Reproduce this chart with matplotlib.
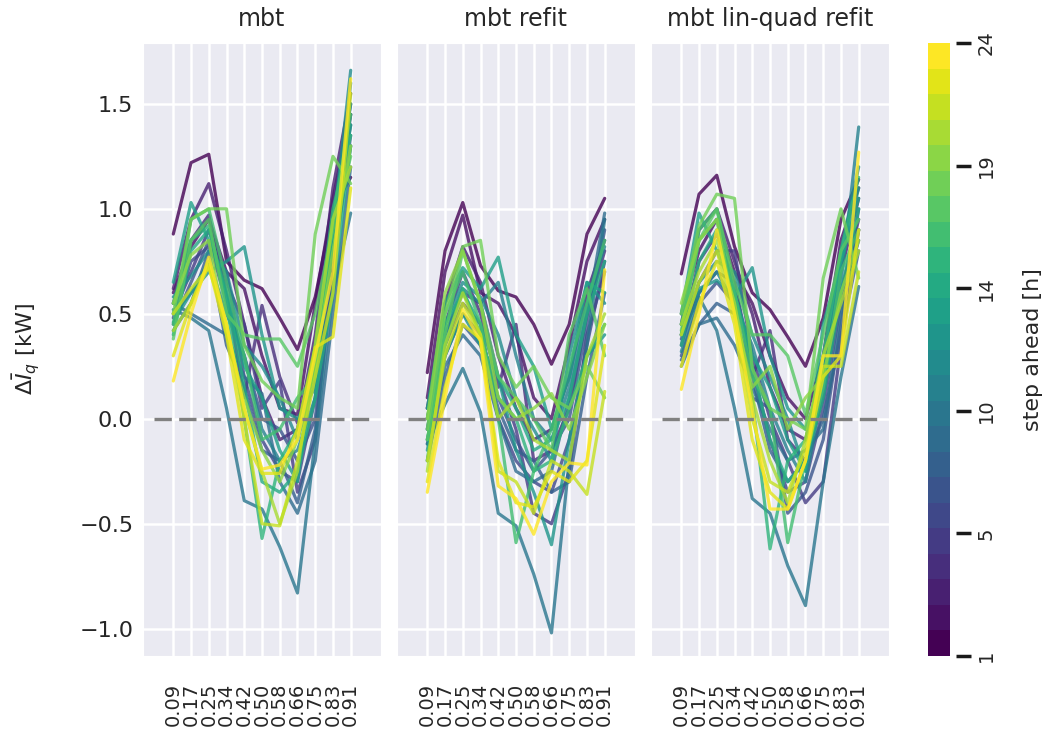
import numpy as np
import matplotlib
matplotlib.use("Agg")
import matplotlib.pyplot as plt
import matplotlib.colors as mcolors
import seaborn as sns

sns.set_style("darkgrid")
plt.rcParams['font.family'] = ['DejaVu Sans']

quantiles = [0.09, 0.172, 0.254, 0.336, 0.418, 0.5, 0.582, 0.664, 0.746, 0.828, 0.91]
steps = list(range(1, 25))
titles = ["mbt", "mbt refit", "mbt lin-quad refit"]

# mean current error per quantile, one row per step ahead (1..24)
mbt = [
    [0.88, 1.22, 1.26, 0.75, 0.66, 0.62, 0.48, 0.33, 0.58, 1.00, 1.15],
    [0.60, 0.82, 0.95, 0.70, 0.62, 0.30, 0.05, 0.02, 0.55, 1.05, 1.45],
    [0.62, 0.95, 1.12, 0.80, 0.45, 0.10, -0.10, -0.05, 0.40, 1.10, 1.55],
    [0.55, 0.85, 0.97, 0.60, 0.10, 0.54, 0.20, -0.02, 0.25, 1.00, 1.50],
    [0.50, 0.70, 0.90, 0.65, 0.45, 0.05, 0.18, -0.35, -0.10, 0.75, 1.30],
    [0.48, 0.75, 0.82, 0.70, 0.20, -0.10, -0.25, -0.30, 0.10, 0.90, 1.40],
    [0.45, 0.65, 0.85, 0.55, 0.30, 0.00, -0.05, -0.20, 0.00, 0.80, 1.45],
    [0.42, 0.55, 0.80, 0.35, 0.15, -0.15, -0.20, -0.40, -0.05, 0.70, 1.35],
    [0.55, 0.50, 0.45, 0.40, 0.20, 0.12, -0.30, -0.45, -0.20, 0.50, 1.20],
    [0.52, 0.48, 0.42, 0.05, -0.39, -0.43, -0.61, -0.83, -0.10, 0.60, 0.98],
    [0.50, 0.60, 0.75, 0.50, 0.30, -0.05, -0.20, -0.15, 0.10, 0.85, 1.60],
    [0.58, 0.68, 0.80, 0.70, 0.35, 0.25, 0.10, -0.10, 0.20, 0.90, 1.66],
    [0.46, 0.60, 0.70, 0.75, 0.82, 0.40, 0.05, 0.00, 0.15, 0.95, 1.50],
    [0.65, 1.03, 0.85, 0.60, 0.25, 0.10, -0.15, -0.30, 0.30, 0.85, 1.40],
    [0.40, 0.80, 0.90, 0.60, 0.15, -0.30, -0.35, -0.25, 0.10, 0.60, 1.30],
    [0.55, 0.85, 0.92, 0.55, 0.00, -0.57, -0.20, -0.05, 0.35, 1.00, 1.35],
    [0.45, 0.95, 1.00, 0.65, 0.30, -0.10, -0.05, 0.10, 0.20, 0.95, 1.45],
    [0.38, 0.85, 0.95, 0.50, 0.40, 0.38, 0.38, 0.25, 0.50, 0.90, 1.25],
    [0.50, 0.95, 1.00, 1.00, 0.35, 0.18, 0.10, 0.05, 0.88, 1.25, 1.12],
    [0.55, 0.78, 0.85, 0.40, 0.10, -0.15, -0.30, -0.10, 0.25, 0.80, 1.30],
    [0.42, 0.55, 0.75, 0.45, 0.05, -0.25, -0.50, -0.25, 0.35, 0.95, 1.20],
    [0.50, 0.62, 0.72, 0.45, 0.00, -0.50, -0.51, -0.20, 0.20, 0.60, 1.55],
    [0.30, 0.55, 0.73, 0.40, -0.10, -0.26, -0.26, -0.05, 0.34, 0.39, 1.10],
    [0.18, 0.50, 0.77, 0.45, 0.05, -0.24, -0.22, -0.10, 0.30, 0.70, 1.62],
]

mbt_refit = [
    [0.22, 0.80, 1.03, 0.73, 0.61, 0.58, 0.45, 0.26, 0.45, 0.88, 1.05],
    [0.10, 0.70, 0.97, 0.60, 0.55, 0.40, 0.10, 0.00, 0.35, 0.75, 0.95],
    [0.05, 0.55, 0.82, 0.65, 0.30, 0.05, -0.10, -0.05, 0.20, 0.60, 0.85],
    [0.00, 0.45, 0.70, 0.50, 0.15, 0.45, -0.20, -0.15, 0.05, 0.50, 0.80],
    [-0.05, 0.40, 0.60, 0.55, 0.20, -0.05, -0.45, -0.50, -0.25, 0.40, 0.70],
    [0.05, 0.35, 0.55, 0.45, 0.00, -0.20, -0.30, -0.35, -0.10, 0.35, 0.75],
    [-0.10, 0.30, 0.50, 0.40, 0.10, -0.10, -0.25, -0.15, 0.00, 0.45, 0.90],
    [-0.20, 0.20, 0.45, 0.35, 0.05, -0.15, -0.20, -0.35, -0.30, 0.20, 0.60],
    [-0.12, 0.25, 0.40, 0.30, 0.00, -0.25, -0.30, -0.25, 0.10, 0.50, 0.98],
    [-0.12, 0.07, 0.24, 0.03, -0.45, -0.51, -0.74, -1.02, -0.20, 0.35, 0.95],
    [0.00, 0.40, 0.62, 0.55, 0.65, 0.30, 0.00, -0.10, 0.15, 0.55, 0.82],
    [-0.05, 0.45, 0.65, 0.58, 0.40, 0.10, -0.05, -0.20, 0.30, 0.65, 0.55],
    [-0.15, 0.30, 0.50, 0.35, 0.20, -0.15, -0.35, -0.60, -0.10, 0.30, 0.40],
    [0.05, 0.55, 0.72, 0.62, 0.77, 0.40, 0.25, -0.05, 0.20, 0.65, 0.60],
    [-0.20, 0.45, 0.60, 0.45, 0.20, 0.05, -0.15, -0.10, 0.10, 0.50, 0.75],
    [-0.10, 0.35, 0.62, 0.40, 0.10, 0.00, -0.25, -0.20, 0.05, 0.30, 0.45],
    [0.00, 0.50, 0.70, 0.45, 0.00, -0.59, -0.25, -0.05, 0.25, 0.55, 0.85],
    [-0.10, 0.40, 0.80, 0.55, 0.20, 0.10, 0.00, -0.15, 0.40, 0.62, 0.30],
    [-0.05, 0.50, 0.82, 0.85, 0.30, 0.15, 0.25, 0.10, 0.05, 0.25, 0.10],
    [0.00, 0.60, 0.80, 0.55, 0.10, 0.00, 0.05, 0.12, -0.05, 0.20, 0.45],
    [-0.25, 0.35, 0.60, 0.40, 0.00, 0.10, -0.10, -0.15, -0.20, 0.30, 0.50],
    [-0.20, 0.30, 0.55, 0.40, -0.25, -0.30, -0.45, -0.20, -0.25, -0.36, 0.13],
    [-0.30, 0.15, 0.45, 0.38, -0.20, -0.40, -0.42, -0.25, -0.30, -0.20, 0.35],
    [-0.35, 0.10, 0.52, 0.37, -0.32, -0.38, -0.55, -0.30, -0.21, -0.22, 0.71],
]

mbt_linquad = [
    [0.69, 1.07, 1.16, 0.82, 0.60, 0.52, 0.39, 0.25, 0.48, 0.95, 1.14],
    [0.50, 0.80, 0.95, 0.70, 0.55, 0.30, 0.10, 0.00, 0.30, 0.85, 1.10],
    [0.45, 0.90, 1.00, 0.75, 0.50, 0.15, -0.05, -0.10, 0.20, 0.70, 1.05],
    [0.40, 0.75, 0.88, 0.65, 0.20, 0.42, -0.10, -0.20, 0.10, 0.60, 0.95],
    [0.35, 0.65, 0.80, 0.80, 0.30, 0.00, -0.20, -0.40, -0.30, 0.35, 0.90],
    [0.38, 0.60, 0.70, 0.65, 0.25, -0.10, -0.35, -0.30, 0.05, 0.55, 0.85],
    [0.30, 0.55, 0.65, 0.55, 0.10, 0.05, -0.45, -0.35, -0.10, 0.45, 1.00],
    [0.28, 0.45, 0.55, 0.50, 0.20, -0.15, -0.30, -0.20, 0.00, 0.40, 0.80],
    [0.25, 0.45, 0.48, 0.35, 0.15, -0.05, -0.20, -0.15, -0.05, 0.50, 0.90],
    [0.40, 0.58, 0.42, 0.05, -0.38, -0.45, -0.70, -0.89, -0.30, 0.20, 0.63],
    [0.32, 0.60, 0.70, 0.55, 0.35, 0.05, -0.15, -0.30, 0.15, 0.65, 1.39],
    [0.40, 0.65, 0.75, 0.70, 0.40, 0.20, 0.00, -0.25, 0.25, 0.80, 1.20],
    [0.45, 0.62, 0.66, 0.58, 0.72, 0.30, 0.05, -0.05, 0.20, 0.75, 1.10],
    [0.50, 0.98, 0.80, 0.60, 0.30, 0.15, -0.10, -0.25, 0.45, 0.75, 1.05],
    [0.35, 0.75, 0.90, 0.60, 0.25, -0.10, -0.30, -0.20, 0.10, 0.60, 1.00],
    [0.45, 0.85, 0.95, 0.55, 0.10, -0.62, -0.20, -0.10, 0.30, 0.80, 1.15],
    [0.40, 0.90, 1.00, 0.60, 0.20, 0.05, -0.59, -0.20, 0.15, 0.70, 0.90],
    [0.42, 0.85, 1.00, 0.65, 0.40, 0.40, 0.30, 0.02, 0.40, 0.80, 0.95],
    [0.50, 0.92, 1.07, 1.05, 0.24, 0.05, 0.00, -0.05, 0.67, 1.00, 0.67],
    [0.55, 0.85, 0.95, 0.50, 0.15, 0.25, -0.05, 0.10, 0.20, 0.60, 0.85],
    [0.45, 0.70, 0.85, 0.55, 0.10, -0.20, -0.40, -0.10, 0.30, 0.55, 0.80],
    [0.40, 0.65, 0.80, 0.50, 0.00, -0.30, -0.35, -0.15, 0.25, 0.25, 0.70],
    [0.25, 0.55, 0.75, 0.45, -0.10, -0.35, -0.43, -0.20, 0.20, 0.30, 0.90],
    [0.14, 0.50, 0.90, 0.50, 0.05, -0.43, -0.43, -0.20, 0.30, 0.30, 1.27],
]

panels = [mbt, mbt_refit, mbt_linquad]

colors = plt.cm.viridis(np.linspace(0, 1, len(steps)))
cmap = mcolors.ListedColormap(colors)

fig = plt.figure(figsize=(10.45, 7.4), dpi=100)
W, H = 1045.0, 740.0
lefts = [143, 397, 651]
axes = []
for i, data in enumerate(panels):
    ax = fig.add_axes([lefts[i] / W, 1 - 656 / H, 238 / W, 613 / H])
    for k, row in enumerate(data):
        ax.plot(quantiles, row, color=colors[k], lw=2.3, alpha=0.8)
    ax.plot([0, 1], [0, 0], color="gray", lw=2.4, ls=(0, (5.2, 2.2)))
    ax.set_xlim(-0.05, 1.05)
    ax.set_ylim(-1.13, 1.79)
    ax.set_xticks(quantiles)
    ax.set_xticklabels(["%.2f" % q for q in quantiles], rotation=90, fontsize=14)
    ax.tick_params(axis="x", pad=16)
    ax.set_yticks([-1.0, -0.5, 0.0, 0.5, 1.0, 1.5])
    if i == 0:
        ax.tick_params(axis="y", labelsize=16)
        ax.set_ylabel(r"$\Delta \bar{I}_q$ [kW]", fontsize=16, labelpad=27)
    else:
        ax.set_yticklabels([])
    ax.set_title(titles[i], fontsize=17, pad=12)
    ax.grid(True, color="white", lw=1.8)
    axes.append(ax)

cax = fig.add_axes([928 / W, 1 - 656 / H, 22 / W, 613 / H])
sm = plt.cm.ScalarMappable(cmap=cmap, norm=mcolors.Normalize(vmin=1, vmax=24))
cb = fig.colorbar(sm, cax=cax)
cb.outline.set_visible(False)
ticks = np.linspace(1, 24, 6)
cb.set_ticks(ticks)
cb.set_ticklabels([str(int(t)) for t in ticks])
cax.spines["right"].set_position(("outward", 4))
cax.tick_params(axis="y", length=11, width=2.5, color="0.1", labelsize=14,
                labelrotation=90, pad=4)
for lab in cax.get_yticklabels():
    lab.set_va("center")
cb.set_label("step ahead [h]", fontsize=16, labelpad=20)

fig.savefig("out.png", dpi=100)
